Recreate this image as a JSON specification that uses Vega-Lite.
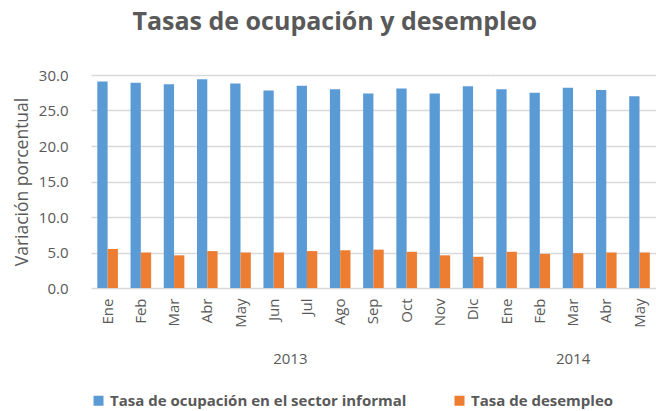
{
  "$schema": "https://vega.github.io/schema/vega-lite/v6.json",
  "padding": {"left": 13, "top": 10, "right": 0, "bottom": 0},
  "background": "white",
  "title": {"text": "Tasas de ocupación y desempleo", "fontSize": 25, "font": "Open Sans", "fontWeight": "bold", "color": "#595959", "offset": 33, "anchor": "middle"},
  "config": {"view": {"stroke": null}, "font": "Open Sans"},
  "data": {"values": [
    {"anio": "2013", "mes": "Ene", "serie": "Tasa de ocupación en el sector informal", "valor": 29.1},
    {"anio": "2013", "mes": "Ene", "serie": "Tasa de desempleo", "valor": 5.5},
    {"anio": "2013", "mes": "Feb", "serie": "Tasa de ocupación en el sector informal", "valor": 28.9},
    {"anio": "2013", "mes": "Feb", "serie": "Tasa de desempleo", "valor": 5.0},
    {"anio": "2013", "mes": "Mar", "serie": "Tasa de ocupación en el sector informal", "valor": 28.7},
    {"anio": "2013", "mes": "Mar", "serie": "Tasa de desempleo", "valor": 4.6},
    {"anio": "2013", "mes": "Abr", "serie": "Tasa de ocupación en el sector informal", "valor": 29.4},
    {"anio": "2013", "mes": "Abr", "serie": "Tasa de desempleo", "valor": 5.2},
    {"anio": "2013", "mes": "May", "serie": "Tasa de ocupación en el sector informal", "valor": 28.8},
    {"anio": "2013", "mes": "May", "serie": "Tasa de desempleo", "valor": 5.0},
    {"anio": "2013", "mes": "Jun", "serie": "Tasa de ocupación en el sector informal", "valor": 27.8},
    {"anio": "2013", "mes": "Jun", "serie": "Tasa de desempleo", "valor": 5.0},
    {"anio": "2013", "mes": "Jul", "serie": "Tasa de ocupación en el sector informal", "valor": 28.5},
    {"anio": "2013", "mes": "Jul", "serie": "Tasa de desempleo", "valor": 5.2},
    {"anio": "2013", "mes": "Ago", "serie": "Tasa de ocupación en el sector informal", "valor": 28.0},
    {"anio": "2013", "mes": "Ago", "serie": "Tasa de desempleo", "valor": 5.3},
    {"anio": "2013", "mes": "Sep", "serie": "Tasa de ocupación en el sector informal", "valor": 27.4},
    {"anio": "2013", "mes": "Sep", "serie": "Tasa de desempleo", "valor": 5.4},
    {"anio": "2013", "mes": "Oct", "serie": "Tasa de ocupación en el sector informal", "valor": 28.1},
    {"anio": "2013", "mes": "Oct", "serie": "Tasa de desempleo", "valor": 5.1},
    {"anio": "2013", "mes": "Nov", "serie": "Tasa de ocupación en el sector informal", "valor": 27.4},
    {"anio": "2013", "mes": "Nov", "serie": "Tasa de desempleo", "valor": 4.6},
    {"anio": "2013", "mes": "Dic", "serie": "Tasa de ocupación en el sector informal", "valor": 28.4},
    {"anio": "2013", "mes": "Dic", "serie": "Tasa de desempleo", "valor": 4.4},
    {"anio": "2014", "mes": "Ene", "serie": "Tasa de ocupación en el sector informal", "valor": 28.0},
    {"anio": "2014", "mes": "Ene", "serie": "Tasa de desempleo", "valor": 5.1},
    {"anio": "2014", "mes": "Feb", "serie": "Tasa de ocupación en el sector informal", "valor": 27.5},
    {"anio": "2014", "mes": "Feb", "serie": "Tasa de desempleo", "valor": 4.8},
    {"anio": "2014", "mes": "Mar", "serie": "Tasa de ocupación en el sector informal", "valor": 28.2},
    {"anio": "2014", "mes": "Mar", "serie": "Tasa de desempleo", "valor": 4.9},
    {"anio": "2014", "mes": "Abr", "serie": "Tasa de ocupación en el sector informal", "valor": 27.9},
    {"anio": "2014", "mes": "Abr", "serie": "Tasa de desempleo", "valor": 5.0},
    {"anio": "2014", "mes": "May", "serie": "Tasa de ocupación en el sector informal", "valor": 27.0},
    {"anio": "2014", "mes": "May", "serie": "Tasa de desempleo", "valor": 5.0}
  ]},
  "facet": {
    "column": {
      "field": "anio", "type": "ordinal", "title": null,
      "header": {"labelOrient": "bottom", "labelFontSize": 15, "labelColor": "#595959", "labelFont": "Open Sans", "labelPadding": 24}
    }
  },
  "spacing": 0,
  "resolve": {"scale": {"x": "independent"}},
  "spec": {
    "width": {"step": 10.3},
    "height": 213,
    "mark": {"type": "bar"},
    "encoding": {
      "x": {
        "field": "mes", "type": "nominal",
        "sort": ["Ene","Feb","Mar","Abr","May","Jun","Jul","Ago","Sep","Oct","Nov","Dic"],
        "scale": {"paddingInner": 0.38, "paddingOuter": 0.19},
        "axis": {"title": null, "labelAngle": 270, "labelFontSize": 15, "labelColor": "#595959", "labelPadding": 10, "ticks": false, "domain": false}
      },
      "xOffset": {"field": "serie", "type": "nominal", "sort": ["Tasa de ocupación en el sector informal", "Tasa de desempleo"]},
      "y": {
        "field": "valor", "type": "quantitative",
        "scale": {"domain": [0, 30]},
        "axis": {"title": "Variación porcentual", "titleFontSize": 17.5, "titleFontWeight": "normal", "titleColor": "#595959", "titlePadding": 7, "format": ".1f", "values": [0,5,10,15,20,25,30], "labelFontSize": 15, "labelColor": "#595959", "labelPadding": 23, "ticks": false, "domain": false, "gridColor": "#D9D9D9", "gridWidth": 1.5}
      },
      "color": {
        "field": "serie", "type": "nominal",
        "scale": {"domain": ["Tasa de ocupación en el sector informal", "Tasa de desempleo"], "range": ["#5B9BD5", "#ED7D31"]},
        "legend": {"title": null, "orient": "bottom", "direction": "horizontal", "symbolType": "square", "symbolSize": 100, "symbolStrokeWidth": 0, "labelFontSize": 15, "labelFontWeight": "bold", "labelColor": "#595959", "columnPadding": 45, "offset": 26, "labelLimit": 400}
      }
    }
  }
}
